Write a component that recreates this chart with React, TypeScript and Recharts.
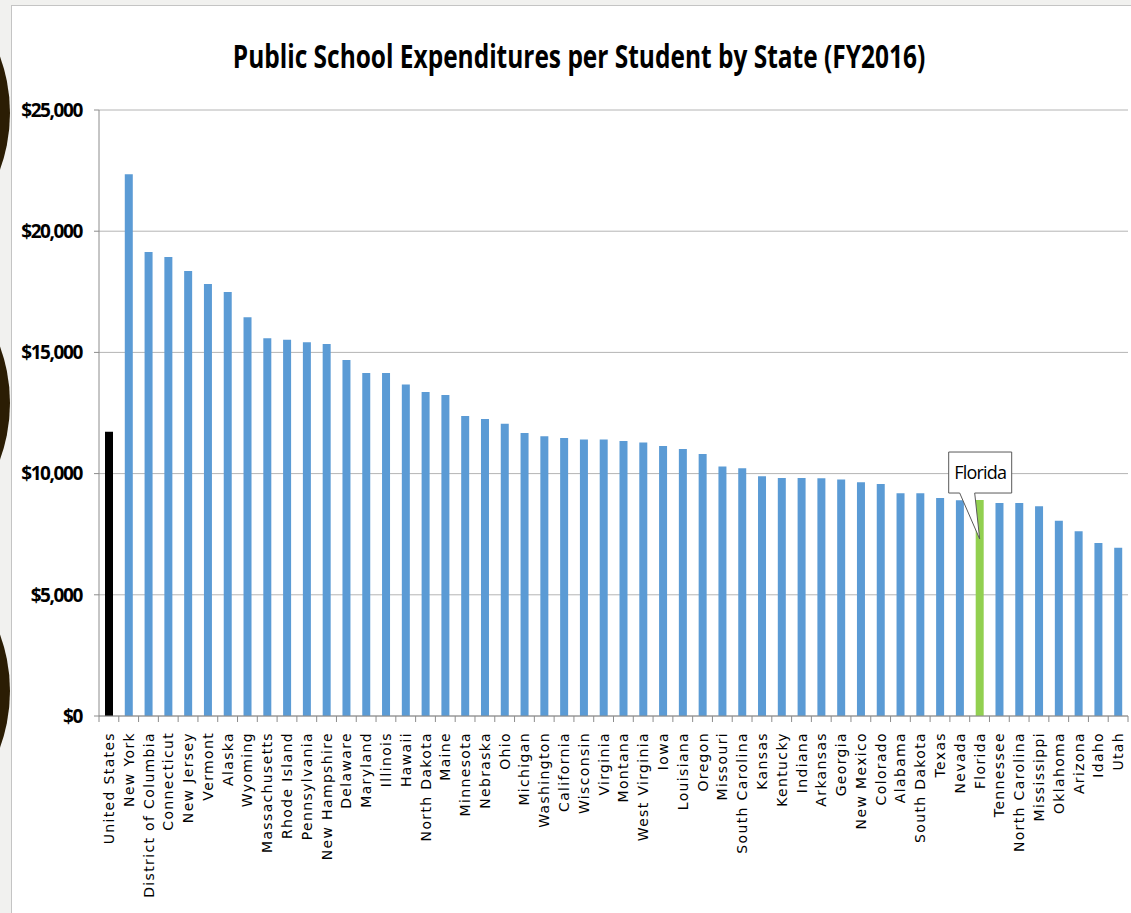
import type { ReactElement } from 'react';
import { Bar, BarChart, CartesianGrid, Cell, LabelList, XAxis, YAxis } from 'recharts';

const states = [
  'United States', 'New York', 'District of Columbia', 'Connecticut', 'New Jersey', 'Vermont',
  'Alaska', 'Wyoming', 'Massachusetts', 'Rhode Island', 'Pennsylvania', 'New Hampshire',
  'Delaware', 'Maryland', 'Illinois', 'Hawaii', 'North Dakota', 'Maine', 'Minnesota',
  'Nebraska', 'Ohio', 'Michigan', 'Washington', 'California', 'Wisconsin', 'Virginia',
  'Montana', 'West Virginia', 'Iowa', 'Louisiana', 'Oregon', 'Missouri', 'South Carolina',
  'Kansas', 'Kentucky', 'Indiana', 'Arkansas', 'Georgia', 'New Mexico', 'Colorado',
  'Alabama', 'South Dakota', 'Texas', 'Nevada', 'Florida', 'Tennessee', 'North Carolina',
  'Mississippi', 'Oklahoma', 'Arizona', 'Idaho', 'Utah',
];

const spending = [
  11730, 22350, 19140, 18940, 18360, 17820,
  17490, 16450, 15580, 15520, 15420, 15350,
  14690, 14150, 14150, 13680, 13370, 13240, 12380,
  12250, 12060, 11670, 11540, 11470, 11410, 11410,
  11340, 11280, 11140, 11010, 10810, 10290, 10220,
  9890, 9820, 9820, 9810, 9760, 9640, 9570,
  9190, 9190, 8990, 8900, 8910, 8790, 8790,
  8650, 8060, 7620, 7140, 6940,
];

const yTicks = [0, 5000, 10000, 15000, 20000, 25000];

const title = 'Public School Expenditures per Student by State (FY2016)';
const highlight = 'Florida';
const total = 'United States';

const data = states.map((name, i) => ({ name, value: spending[i] }));

const PLOT_LEFT = 99;
const PLOT_RIGHT = 1128;
const BAND = (PLOT_RIGHT - PLOT_LEFT) / states.length;
const BOLD_FONT = "'Open Sans', sans-serif";

function barColor(name: string): string {
  if (name === total) return '#000000';
  if (name === highlight) return '#92d050';
  return '#5b9bd5';
}

// Excel-style: tick marks sit between categories, labels read bottom-to-top
function StateTick(props: any): ReactElement {
  const { x, y, payload, index } = props;
  const left = x - BAND / 2;
  return (
    <g>
      <line x1={left} x2={left} y1={y - 6} y2={y} stroke="#8c8c8c" />
      {index === states.length - 1 && (
        <line x1={left + BAND} x2={left + BAND} y1={y - 6} y2={y} stroke="#8c8c8c" />
      )}
      <text
        x={x}
        y={y + 10}
        dy="0.36em"
        transform={`rotate(-90 ${x} ${y + 10})`}
        textAnchor="end"
        style={{ fontFamily: 'DejaVu Sans', fontSize: 14, letterSpacing: 1.35 }}
        fill="#000"
      >
        {payload.value}
      </text>
    </g>
  );
}

function MoneyTick(props: any): ReactElement {
  const { x, y, payload } = props;
  return (
    <text
      x={x}
      y={y}
      dy="0.36em"
      textAnchor="end"
      style={{ fontFamily: BOLD_FONT, fontWeight: 700, fontSize: 19, letterSpacing: -1.4 }}
      fill="#000"
    >
      {`$${Number(payload.value).toLocaleString('en-US')}`}
    </text>
  );
}

function FloridaCallout(props: any): ReactElement | null {
  const { x, y, width, value } = props;
  if (value !== highlight) return null;
  const cx = x + width / 2;
  const top = y - 48;
  const bottom = y - 7;
  const l = cx - 31;
  const r = cx + 32;
  const d = `M${l},${top} H${r} V${bottom} H${cx - 5} L${cx},${y + 39} L${cx - 20},${bottom} H${l} Z`;
  return (
    <g>
      <path d={d} fill="#ffffff" stroke="#595959" strokeWidth={1} />
      <text
        x={(l + r) / 2}
        y={(top + bottom) / 2}
        dy="0.36em"
        textAnchor="middle"
        style={{ fontFamily: BOLD_FONT, fontSize: 18, letterSpacing: -0.8 }}
        fill="#000"
      >
        {value}
      </text>
    </g>
  );
}

const circles = [113, 403, 691];

export default function App(): ReactElement {
  return (
    <div
      style={{
        position: 'absolute',
        left: 0,
        top: 0,
        width: 1131,
        height: 913,
        background: '#f1f1ef',
        overflow: 'hidden',
      }}
    >
      {circles.map((cy) => (
        <div
          key={cy}
          style={{
            position: 'absolute',
            left: 10 - 330,
            top: cy - 165,
            width: 330,
            height: 330,
            borderRadius: '50%',
            background: '#2b1d04',
          }}
        />
      ))}
      <div
        style={{
          position: 'absolute',
          left: 11,
          top: 5,
          right: 0,
          bottom: 0,
          background: '#ffffff',
          borderLeft: '1px solid #c4c4c4',
          borderTop: '1px solid #c4c4c4',
        }}
      />
      <svg width={1131} height={100} style={{ position: 'absolute', left: 0, top: 0 }}>
        {/* Calibri-like condensed look: squeeze a bold sans horizontally */}
        <text
          x={0}
          y={0}
          transform="translate(579 68) scale(0.765 1)"
          textAnchor="middle"
          style={{ fontFamily: BOLD_FONT, fontWeight: 700, fontSize: 32 }}
          fill="#000"
        >
          {title}
        </text>
      </svg>
      <div style={{ position: 'absolute', left: 0, top: 0 }}>
        <BarChart
          width={1131}
          height={913}
          data={data}
          margin={{ top: 110, right: 1131 - PLOT_RIGHT, left: PLOT_LEFT - 80, bottom: 0 }}
          barSize={8}
        >
          <CartesianGrid vertical={false} stroke="#b4b4b4" />
          <XAxis
            dataKey="name"
            interval={0}
            height={197}
            tickSize={6}
            tickMargin={0}
            tickLine={false}
            axisLine={{ stroke: '#8c8c8c' }}
            tick={<StateTick />}
          />
          <YAxis
            width={80}
            domain={[0, 25000]}
            ticks={yTicks}
            interval={0}
            tickSize={5}
            tickMargin={12}
            axisLine={{ stroke: '#8c8c8c' }}
            tickLine={{ stroke: '#8c8c8c' }}
            tick={<MoneyTick />}
          />
          <Bar dataKey="value" isAnimationActive={false}>
            {data.map((d) => (
              <Cell key={d.name} fill={barColor(d.name)} />
            ))}
            <LabelList dataKey="name" content={<FloridaCallout />} />
          </Bar>
        </BarChart>
      </div>
    </div>
  );
}
